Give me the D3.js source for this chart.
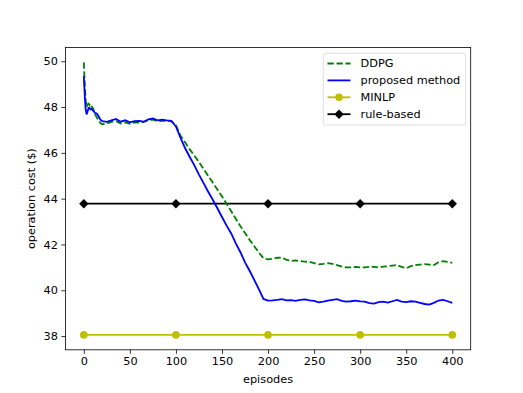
<!DOCTYPE html>
<meta charset="utf-8">
<script src="https://d3js.org/d3.v7.min.js"></script>
<style>
  body { margin: 0; background: #fff; }
  text { font-family: "DejaVu Sans", sans-serif; }
</style>
<svg id="chart" width="523" height="393"></svg>
<script>
// episodes shared by the two learning curves
const episodes = [0,1,2,3,4,5,6,7,8,10,12,14,16,18,20,
  25,30,35,40,45,50,55,60,65,70,75,80,85,90,95,
  100,105,110,115,120,125,130,135,140,145,150,155,160,165,170,175,180,185,190,195,
  200,205,210,215,220,225,230,235,240,245,250,255,260,265,270,275,280,285,290,295,
  300,305,310,315,320,325,330,335,340,345,350,355,360,365,370,375,380,385,390,395,400];

const ddpg = [49.95,49.0,48.3,48.0,48.1,48.15,48.1,48.15,48.05,47.95,47.7,47.55,47.4,47.3,47.25,
  47.28,47.35,47.38,47.28,47.33,47.27,47.33,47.32,47.35,47.42,47.45,47.38,47.4,47.4,47.38,
  47.2,46.75,46.45,46.15,45.88,45.6,45.3,45.0,44.7,44.4,44.1,43.78,43.45,43.12,42.8,42.5,42.2,41.92,41.65,41.4,
  41.35,41.38,41.42,41.43,41.33,41.28,41.3,41.27,41.25,41.24,41.18,41.13,41.15,41.18,41.15,41.1,41.03,41.0,41.0,41.02,
  41.0,41.0,41.02,41.02,41.0,41.03,41.05,41.08,41.1,41.02,40.96,41.05,41.1,41.12,41.14,41.12,41.1,41.22,41.27,41.24,41.2];

const proposed = [49.35,48.5,47.9,47.68,47.8,47.95,47.98,47.9,47.92,47.85,47.75,47.72,47.6,47.45,47.38,
  47.35,47.42,47.48,47.36,47.42,47.33,47.38,47.4,47.36,47.46,47.5,47.42,47.45,47.42,47.4,
  47.15,46.65,46.2,45.82,45.45,45.05,44.68,44.3,43.95,43.58,43.2,42.82,42.48,42.05,41.66,41.22,40.85,40.45,40.05,39.62,
  39.55,39.56,39.58,39.61,39.56,39.57,39.54,39.58,39.6,39.56,39.54,39.47,39.5,39.55,39.58,39.61,39.54,39.5,39.52,39.55,
  39.51,39.5,39.44,39.42,39.48,39.5,39.46,39.52,39.58,39.5,39.48,39.52,39.5,39.45,39.4,39.37,39.45,39.55,39.58,39.52,39.45];

// baselines, evaluated every 100 episodes
const baseEpisodes = [0,100,200,300,400];
const minlp = [38.05,38.05,38.05,38.05,38.05];
const ruleBased = [43.78,43.78,43.78,43.78,43.78];

const xTicks = [0,50,100,150,200,250,300,350,400];
const yTicks = [38,40,42,44,46,48,50];

const svg = d3.select("#chart");
const margin = {left: 65.4, right: 470.7, top: 47.5, bottom: 349.8};

const x = d3.scaleLinear().domain([-20, 420]).range([margin.left, margin.right]);
const y = d3.scaleLinear().domain([37.4, 50.6]).range([margin.bottom, margin.top]);

const lw = 1.8;
const diamondSize = 44;
const dotR = 3.8;
const line = d3.line().x(d => x(d[0])).y(d => y(d[1]));

const plot = svg.append("g");

// rule-based
plot.append("path")
  .attr("d", line(baseEpisodes.map((e, i) => [e, ruleBased[i]])))
  .attr("fill", "none").attr("stroke", "#000").attr("stroke-width", lw);
plot.selectAll(".diamond")
  .data(baseEpisodes.map((e, i) => [e, ruleBased[i]]))
  .enter().append("path")
    .attr("d", d3.symbol(d3.symbolSquare, diamondSize))
    .attr("transform", d => `translate(${x(d[0])},${y(d[1])}) rotate(45)`)
    .attr("fill", "#000");

// MINLP
plot.append("path")
  .attr("d", line(baseEpisodes.map((e, i) => [e, minlp[i]])))
  .attr("fill", "none").attr("stroke", "#bfbf00").attr("stroke-width", lw);
plot.selectAll(".dot")
  .data(baseEpisodes.map((e, i) => [e, minlp[i]]))
  .enter().append("circle")
    .attr("cx", d => x(d[0])).attr("cy", d => y(d[1]))
    .attr("r", dotR).attr("fill", "#bfbf00");

// DDPG
plot.append("path")
  .attr("d", line(episodes.map((e, i) => [e, ddpg[i]])))
  .attr("fill", "none").attr("stroke", "#008000").attr("stroke-width", lw)
  .attr("stroke-dasharray", "6.3,2.7");

// proposed method
plot.append("path")
  .attr("d", line(episodes.map((e, i) => [e, proposed[i]])))
  .attr("fill", "none").attr("stroke", "#0000ff").attr("stroke-width", lw);

// axes
const fs = "11.3px";
const xAxis = svg.append("g")
  .attr("transform", `translate(0,${margin.bottom})`)
  .call(d3.axisBottom(x).tickValues(xTicks).tickSize(4).tickPadding(3.5));
const yAxis = svg.append("g")
  .attr("transform", `translate(${margin.left},0)`)
  .call(d3.axisLeft(y).tickValues(yTicks).tickSize(4).tickPadding(3.5));
[xAxis, yAxis].forEach(a => {
  a.select(".domain").remove();
  a.selectAll("text").style("font-size", fs).attr("fill", "#000").style("font-family", "DejaVu Sans");
  a.selectAll("line").attr("stroke", "#000").attr("stroke-width", 0.8);
});

svg.append("rect")
  .attr("x", margin.left).attr("y", margin.top)
  .attr("width", margin.right - margin.left).attr("height", margin.bottom - margin.top)
  .attr("fill", "none").attr("stroke", "#000").attr("stroke-width", 0.8);

svg.append("text")
  .attr("x", (margin.left + margin.right) / 2).attr("y", 383)
  .attr("text-anchor", "middle").style("font-size", fs).text("episodes");
svg.append("text")
  .attr("transform", `translate(35,${(margin.top + margin.bottom) / 2}) rotate(-90)`)
  .attr("text-anchor", "middle").style("font-size", fs).text("operation cost ($)");

// legend
const legendItems = [
  {name: "DDPG", color: "#008000", dash: "6.3,2.7", marker: null},
  {name: "proposed method", color: "#0000ff", dash: null, marker: null},
  {name: "MINLP", color: "#bfbf00", dash: null, marker: "circle"},
  {name: "rule-based", color: "#000", dash: null, marker: "diamond"}
];
const lg = svg.append("g");
lg.append("rect")
  .attr("x", 323.3).attr("y", 53.3).attr("width", 142.4).attr("height", 71.7)
  .attr("rx", 2.5).attr("fill", "#fff").attr("fill-opacity", 0.8)
  .attr("stroke", "#d6d6d6").attr("stroke-width", 0.8);
legendItems.forEach((d, i) => {
  const ly = 63.5 + i * 16.9;
  lg.append("line")
    .attr("x1", 327.5).attr("x2", 350.5).attr("y1", ly).attr("y2", ly)
    .attr("stroke", d.color).attr("stroke-width", lw)
    .attr("stroke-dasharray", d.dash);
  if (d.marker === "circle") {
    lg.append("circle").attr("cx", 339).attr("cy", ly).attr("r", dotR).attr("fill", d.color);
  } else if (d.marker === "diamond") {
    lg.append("path")
      .attr("d", d3.symbol(d3.symbolSquare, diamondSize))
      .attr("transform", `translate(339,${ly}) rotate(45)`)
      .attr("fill", d.color);
  }
  lg.append("text")
    .attr("x", 360.5).attr("y", ly).attr("dy", "0.35em")
    .style("font-size", fs).text(d.name);
});
</script>
